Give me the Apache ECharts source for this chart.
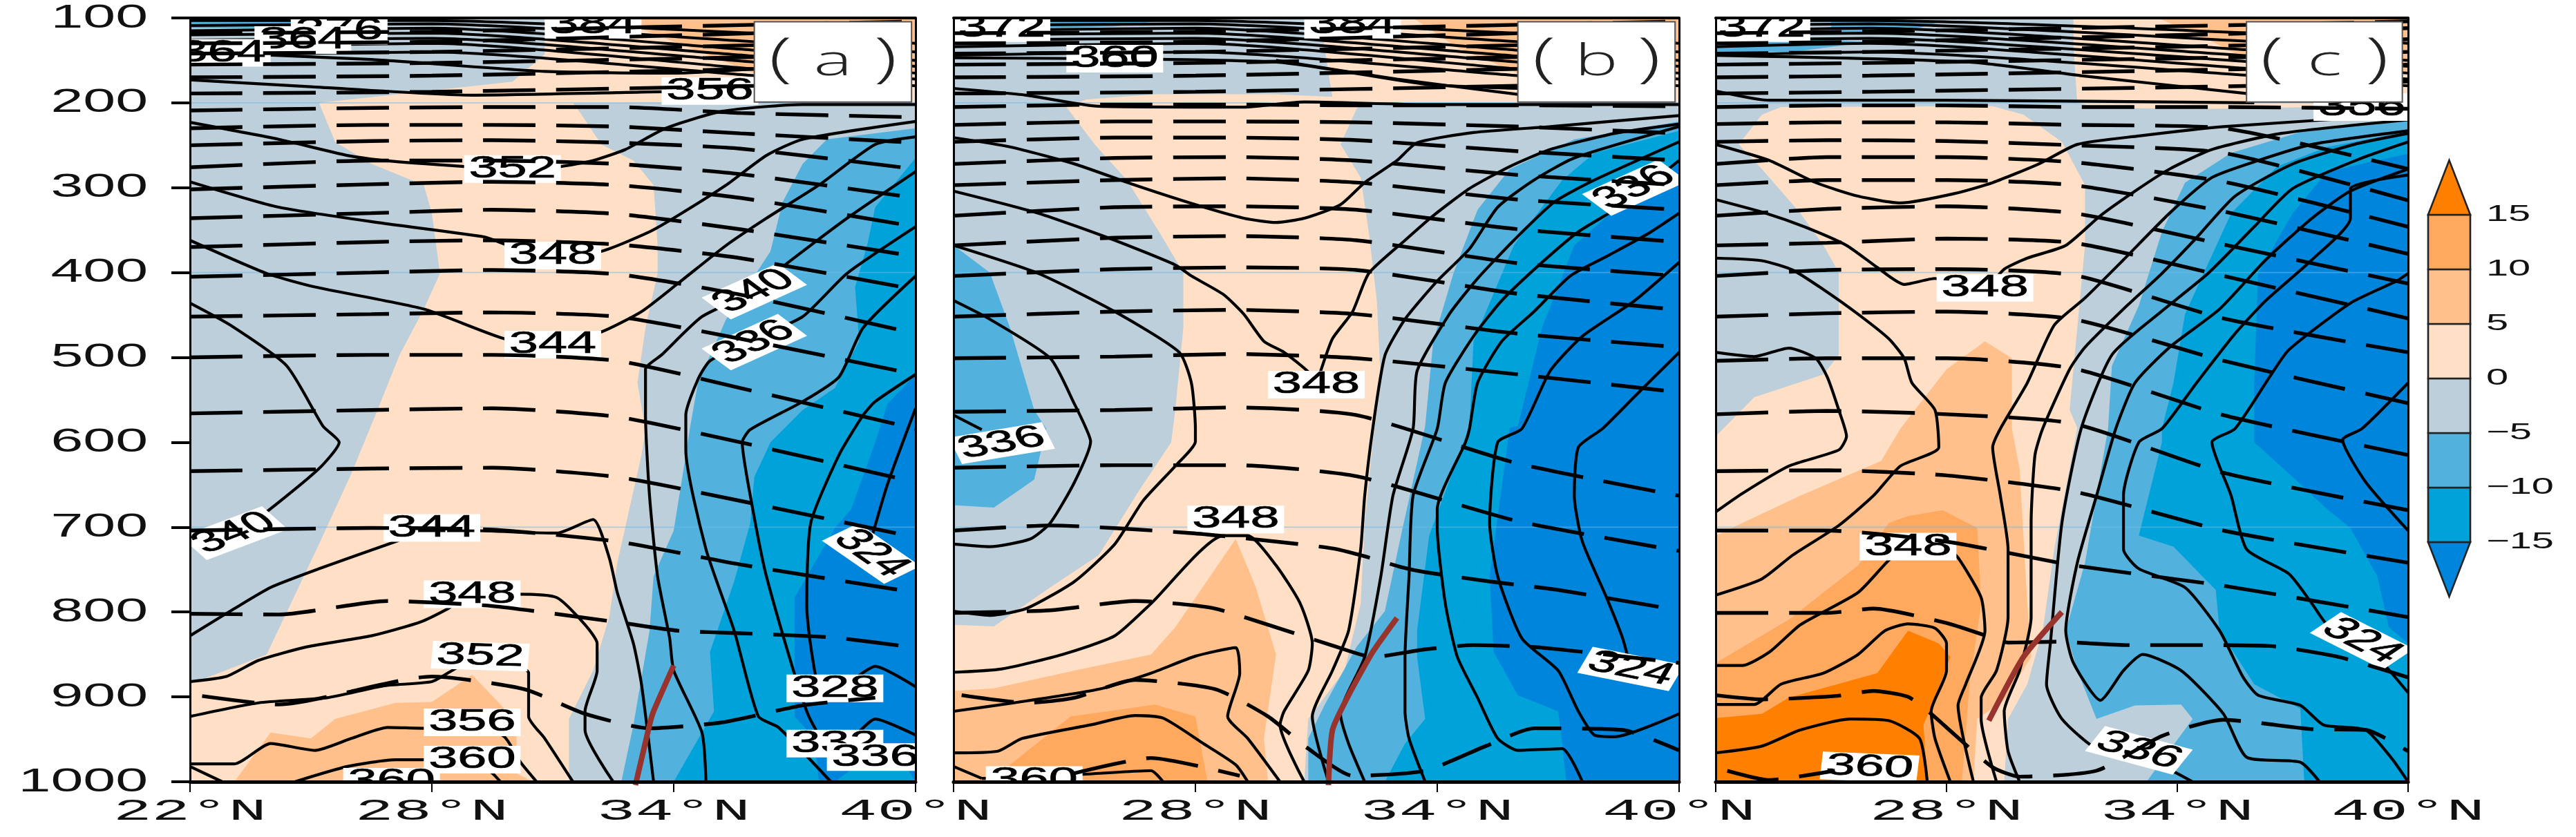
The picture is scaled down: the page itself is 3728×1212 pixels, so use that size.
<!DOCTYPE html>
<html><head><meta charset="utf-8">
<style>html,body{margin:0;padding:0;background:#fff}#c{width:3728px;height:1212px}</style>
<script src="https://cdn.jsdelivr.net/npm/echarts@6/dist/echarts.min.js"></script>
</head><body><div id="c"></div>
<script>
const pressureTicks=[100,200,300,400,500,600,700,800,900,1000];
const latTicks=[22,28,34,40];
const latLabelsA=[[22,'22°N'],[28,'28°N'],[34,'34°N'],[40,'40°N']];
const latLabelsBC=[[28,'28°N'],[34,'34°N'],[40,'40°N']];
const faintLevels=[200,400,700];
const shadeLevels=[-20,-15,-10,-5,0,5,10,15,20];
const shadeColors=['#0085DC','#00A2DA','#52B2DD','#BCCFDB','#FFDFC6','#FFC08C','#FFA95F','#FF8000'];
const panelLetters=['a','b','c'];
const insetA=[36,104.5,39.9,199], insetB=[36,104.5,39.9,199], insetC=[35.8,104.5,39.85,199];

// ---- filled regions (lat, hPa)
const aPeach=[[25.2,200],[30,175],[30.8,143],[30.8,100],[40,100],[40,199],[31.5,200],[31.7,213],[32.2,249],[33,268],[33.5,297],[33.6,368],[33.6,401],[33.3,465],[33.1,530],[33.3,585],[33.2,615],[32.6,742],[32.4,806],[32,869],[31.4,926],[31.4,1000],[22,1000],[22,885],[23.9,850],[25.2,720],[26,637],[26.6,568],[27.2,497],[27.8,443],[28.2,401],[28,330],[27.8,297],[26.5,272],[25.6,246]];
const aOrange=[[23.1,1000],[24,942],[25,949],[25.6,926],[27.1,907],[28,906],[29,874],[29.8,914],[30.1,945],[30.1,990],[30.5,1000]];
const aTopOrange=[[32.5,100],[40,100],[40,165],[36,165]];
const aTopBlue=[[22,103],[24.6,103],[24.8,112],[22,112]];
const aBlue5=[[40,230],[37.8,243],[37.2,272],[36.7,317],[36.4,375],[35.3,455],[34.6,530],[34.4,584],[34.3,615],[34,704],[33.5,758],[33.4,822],[33,933],[32.7,1000],[40,1000]];
const aBlue10=[[40,265],[39,323],[38.8,368],[38.5,417],[38.6,481],[38,536],[37.2,562],[36.4,600],[36,641],[35.9,695],[35.5,764],[34.9,847],[35,917],[34,1000],[40,1000]];
const aBlue15=[[40,520],[39.3,555],[39,600],[38.4,679],[38,701],[37,783],[37,853],[37,923],[37.5,949],[37.6,1000],[38,1000],[38.7,975],[39.8,985],[40,1000]];

const bPeach=[[31.1,100],[31.3,165],[31.4,193],[30,190],[27,190],[25.3,196],[24.8,205],[25.5,249],[26.3,291],[27.1,352],[27.7,400],[27.7,465],[27.5,562],[27.4,600],[26.6,657],[25.6,733],[24.4,771],[23,817],[22,815],[22,1000],[30.7,1000],[30.8,926],[31.7,869],[32.1,790],[32.2,695],[32.4,600],[32.6,530],[32.5,433],[32.3,352],[32.1,288],[31.6,249],[32,207],[32.2,199],[40,199],[40,100]];
const bOrange=[[22,893],[23,890],[25,869],[26.9,850],[27.5,818],[29,714],[29.5,771],[30,850],[29.7,949],[29.8,1000],[22,1000]];
const bOrange10=[[23.2,1000],[23.4,980],[24.9,923],[27,909],[28,923],[28.3,1000]];
const bTopOrange=[[33.4,100],[40,100],[40,165],[36,165],[34.5,135]];
const bTopBlue=[[24.3,103],[27.2,103],[26,110],[24.3,112]];
const bLeftBlue=[[22,368],[22.9,400],[23.4,465],[24,562],[24.3,584],[24,644],[23,677],[22,674]];
const bBlue5=[[40,222],[37.4,243],[35.8,278],[35,326],[34.4,401],[33.9,481],[33.7,581],[33.1,710],[32.7,799],[32,841],[31.2,910],[30.8,949],[30.8,1000],[40,1000]];
const bBlue10=[[40,233],[37.9,259],[37.1,291],[35.9,368],[34.9,481],[34.8,581],[33.8,710],[33.5,822],[33.5,853],[33.7,926],[33.2,955],[32.7,1000],[40,1000]];
const bBlue15=[[40,268],[38.4,326],[37.4,368],[36.6,465],[36,581],[35.8,583],[35.3,758],[35.4,847],[36,898],[37,917],[37.1,955],[37.2,1000],[40,1000]];

const cPeach=[[23.7,205],[29.2,204],[30,214],[31,246],[31.6,297],[31.6,368],[31.4,465],[31.2,562],[31.4,583],[30.8,726],[30.5,822],[30.1,885],[29.6,926],[29.5,1000],[22,1000],[22,593],[23,547],[24.8,520],[25.2,497],[25.2,400],[24.8,368],[24.2,330],[23.2,278],[22.6,249],[23.2,214]];
const cPeachTop=[[31.3,100],[31.3,133],[31.4,200],[32,206],[35,207],[37.5,205],[40,203],[40,100]];
const cOrange=[[26.8,584],[28,514],[29,481],[29.7,501],[29.7,584],[29.9,631],[30.1,790],[30.2,853],[29.5,904],[28.8,926],[28.7,1000],[22,1000],[22,710],[24.2,663],[26.3,622]];
const cOrange10=[[26.5,695],[27,687],[27.9,680],[28.8,701],[28.9,790],[28.6,885],[28.4,1000],[22,1000],[22,860],[23.9,809],[25.7,745]];
const cOrange15=[[22,925],[23.2,920],[23.9,901],[26.2,872],[27,822],[27.8,837],[28.1,853],[27.7,901],[27.4,933],[27.5,1000],[22,1000]];
const cTopOrange=[[33.5,100],[40,100],[40,165],[36.5,165],[35,130]];
const cTopBlue1=[[25,103],[28,103],[27,115],[25,117]];
const cTopBlue2=[[22,123],[24.5,125],[26,128],[24,140],[22,140]];
const cBlue5=[[40,220],[37.3,233],[35.4,259],[34.2,294],[33.6,352],[33,439],[32.3,510],[32.2,584],[31.6,742],[31.1,822],[31.4,869],[31.9,926],[32.9,910],[34.1,909],[34.4,926],[33.2,1000],[40,1000]];
const cBlue10=[[40,234],[37.9,252],[36.6,275],[35.4,330],[34.2,449],[33.9,530],[33.6,584],[33.6,600],[33,710],[33.9,723],[35,774],[35.1,822],[36,885],[37.2,914],[37.3,1000],[40,1000]];
const cBlue15=[[40,260],[37.9,281],[37,330],[36.1,401],[36,530],[36,600],[37,641],[37.9,679],[38.5,701],[39.2,758],[39.5,818],[40,837]];

// ---- solid contours
const aSolid=[
[[22,173],[25,181],[29,191],[32.6,188],[35,186],[37,186]],
[[22,140],[26.5,149],[30.8,163],[34.1,165],[36,160]],
[[22,223],[24.2,243],[25.9,262],[26.8,268],[28.8,275],[30,278],[31.2,275],[32,268],[32.8,255],[33.8,230],[35.2,210],[37.2,202],[40,202]],
[[22,293],[24.2,323],[26.8,342],[29.3,358],[29.9,368],[31,380],[32.2,375],[33.4,352],[34.1,333],[35.3,297],[36.3,262],[37.2,243],[40,222]],
[[22,362],[23.9,401],[25.1,417],[27.8,443],[29.8,478],[31,485],[32.2,470],[33.2,446],[34.1,413],[35.3,368],[36.3,336],[37.6,297],[39,249],[40,240]],
[[22,436],[23,462],[24.4,510],[25.3,581],[25.7,600],[25.2,631],[23.9,682],[23.1,707]],
[[22,828],[23.1,796],[24,771],[25.2,749],[27.1,717],[28,701],[29.1,704],[31.1,707],[32,691],[32.4,736],[32.6,777],[33,837],[33.2,885],[33.5,1000]],
[[40,281],[38.3,336],[36.6,397],[36,422],[34.7,452],[33.7,497],[33.3,514],[33.3,568],[33.4,663],[33.6,758],[33.9,831],[34,869],[34.7,942],[34.8,1000]],
[[40,346],[38.3,401],[37.2,452],[36,478],[34.9,504],[34.6,526],[34.3,568],[34.3,609],[34.8,726],[35.5,822],[36.1,923],[36.6,936],[37.9,1000]],
[[40,404],[38.7,465],[38.1,523],[37.2,552],[35.9,585],[35.7,600],[35.9,663],[36.3,758],[37.3,917],[37.9,961],[38.4,950],[39,926],[40,945]],
[[40,520],[39,552],[38.7,568],[38.1,615],[37.4,695],[37.3,790],[37.7,901],[38.3,885],[39,864],[40,888]],
[[40,560],[39.3,650],[38.8,731]],
[[22,882],[22.9,876],[23.7,857],[24.9,841],[26.5,828],[27.7,812],[28.4,796],[29,779],[30.1,779],[31.1,783],[31.8,815],[32.1,837],[32.1,869],[31.8,917],[31.8,939],[32.5,1000]],
[[22,923],[23.7,907],[25.4,901],[26.8,887],[28,882],[28.5,869],[29.2,852],[30.4,872],[30.4,923],[30.8,949],[31.5,1000]],
[[22,979],[23.1,979],[24,955],[25.1,963],[26,949],[26.9,936],[27.8,937],[29,930],[29.8,947],[30.2,977],[30.6,1000]],
[[24.6,1000],[25.9,982],[27.1,974],[29,974],[29.5,990],[29.7,1000]],
[[22,982],[22.8,1000]]
];
const bSolid=[
[[22,183],[23.8,191],[25.6,204],[29.2,205],[30.7,199],[33.7,202],[40,202]],
[[22,147],[30,152],[33.7,178],[36,183]],
[[30,150],[33,172],[36,190]],
[[22,241],[23.4,252],[25,272],[26.5,297],[28,320],[29.2,336],[30,341],[30.7,336],[31.6,320],[32.2,294],[33,268],[33.5,247],[34.9,235],[36.8,228],[40,215]],
[[22,304],[24.1,330],[26,362],[27.5,391],[27.9,404],[28.7,426],[29.2,449],[29.7,481],[30.2,494],[30.8,517],[31,532],[31.1,517],[31.4,478],[31.9,446],[32.3,401],[33.2,362],[33.9,333],[34.8,301],[35.8,275],[36.8,255],[38.4,236],[40,225]],
[[22,368],[24.1,401],[26,446],[27.6,494],[27.9,530],[28,584],[28,599],[27.5,628],[26.7,669],[26,720],[25,764],[23.8,796],[22.9,804],[22,799]],
[[22,433],[22.9,455],[24.4,501],[25,555],[25.3,585],[25.4,599],[25,647],[24.4,695],[23.9,714],[22.9,723],[22,720]],
[[22,568],[22.7,585]],
[[22,871],[23.2,867],[24.7,850],[26,828],[26.9,790],[28.7,710],[29.3,710],[30,745],[30.6,790],[30.9,837],[30.8,869],[30.2,917],[30.1,933],[30.7,1000]],
[[22,917],[23.5,907],[25.6,891],[26.9,872],[28,852],[29,842],[29.1,872],[28.8,923],[29.3,949],[30.1,1000]],
[[22,966],[23.1,964],[23.7,949],[25.4,933],[26.5,922],[27.2,925],[28.2,955],[29,980],[29.3,1000]],
[[22.7,996],[24,995],[26.9,987],[27.2,1000]],
[[22,982],[22.7,996]],
[[40,228],[37.4,265],[36.4,291],[35.5,323],[34.8,372],[34,410],[33.2,455],[32.7,498],[32.4,584],[32.2,663],[32.1,726],[31.8,822],[31.4,869],[30.9,923],[31.3,1000]],
[[40,246],[37.9,291],[36.9,317],[35.9,362],[35,407],[34.3,449],[33.5,516],[33.4,584],[32.9,663],[32.6,758],[32.2,853],[31.6,920],[31.8,955],[32.2,1000]],
[[40,268],[38.6,320],[37.5,352],[36.6,388],[35.6,433],[34.9,475],[34.2,530],[34,584],[33.4,663],[33.3,758],[33.2,853],[33.2,917],[33.3,949],[33.7,1000]],
[[40,330],[39.2,355],[38.2,381],[37.3,404],[36.4,446],[35.6,481],[35,530],[34.8,584],[34.7,600],[34,679],[34,701],[34.2,790],[34.5,853],[35,901],[35.5,949],[36,963],[37.1,961],[37.6,1000]],
[[40,388],[38.9,433],[37.6,475],[36.8,516],[36.1,584],[35.5,600],[35.3,695],[35.5,758],[36.1,831],[37,869],[37.5,917],[37.9,945],[38.4,947],[40,920]],
[[40,494],[38.9,546],[38.1,584],[37.5,606],[37.4,663],[37.6,717],[38.2,783],[38.6,831],[38.8,867]]
];
const cSolid=[
[[22,186],[23.4,197],[27.9,197],[36,200]],
[[22,144],[28.6,152],[31.5,168],[35.8,189]],
[[22,249],[23.4,268],[24.6,294],[25.7,310],[26.8,318],[28.2,307],[29.2,294],[30.4,272],[31.4,249],[33,239],[35.2,228],[40,214]],
[[22,314],[23.3,330],[24.3,346],[25.4,368],[26.2,394],[26.9,414],[27.7,407],[29,418],[29.5,396],[30.1,383],[31.1,368],[32,333],[33,301],[33.8,278],[34.9,255],[36.7,236],[40,220]],
[[22,383],[23.2,386],[24,397],[24.8,420],[25.7,449],[26.5,478],[26.9,501],[27.1,530],[27.7,562],[27.8,606],[26.8,628],[26.1,663],[25.2,698],[24,733],[23.2,761],[22,780]],
[[22,494],[23,499],[23.9,489],[24.6,501],[24.9,523],[25.2,562],[25.4,593],[25.2,609],[23.9,628],[22.7,660],[22,682]],
[[22,863],[22.7,863],[23.4,847],[24.2,815],[25.7,777],[26.5,739],[27,723],[28,725],[28.3,736],[28.9,783],[29,822],[28.5,885],[28.3,910],[28.7,1000]],
[[22,909],[23,909],[23.7,885],[24.8,872],[25.7,850],[26.4,822],[27,814],[27.7,819],[28,837],[28,869],[27.6,917],[27.7,949],[28.1,1000]],
[[22,966],[23.2,958],[24.2,939],[25.5,926],[26.5,928],[27.3,949],[27.5,1000]],
[[40,233],[37.5,249],[36.1,268],[34.9,288],[33.8,330],[32.6,385],[31.6,430],[30.8,462],[30.1,530],[29.4,584],[29.2,606],[29.4,663],[29.6,726],[29.6,806],[29.3,869],[28.9,901],[28.9,926],[29.3,1000]],
[[40,236],[38.6,249],[37,272],[35.5,310],[34.5,359],[33.6,401],[32.6,443],[31.6,488],[31.2,514],[30.5,584],[30.3,615],[30.2,695],[30.2,806],[29.9,869],[29.5,917],[29.6,964],[29.9,1000]],
[[40,246],[38.8,265],[37,301],[36,346],[34.8,401],[33.5,449],[32.3,497],[31.5,584],[31,695],[30.7,837],[30.6,885],[31,926],[31.9,961],[33,968],[34.4,1000]],
[[40,278],[38.5,304],[37.5,336],[36.3,385],[35.1,443],[33.8,488],[32.9,530],[32.4,584],[31.9,663],[31.4,742],[31.1,822],[31.3,860],[32,904],[32.6,869],[33.1,850],[34.1,869],[35.2,920],[35.8,971],[37.2,977],[37.7,1000]],
[[40,285],[38.5,301],[38.5,336],[37.5,385],[36.3,433],[35.5,472],[34.5,530],[33.6,584],[33,600],[32.6,663],[32.6,726],[33,749],[34.2,771],[35.1,822],[35.7,876],[36.1,898],[37.2,910],[37.8,933],[38.9,939],[39.6,974],[40,1000]],
[[40,401],[39.7,410],[38.5,436],[36.9,491],[36.4,523],[35.5,584],[34.9,600],[35.4,663],[35.8,726],[36.9,755],[37.5,790],[37.9,815],[38.8,834],[40,895]],
[[40,530],[38.8,584],[38.3,597],[38.9,647],[40,704]]
];

// ---- dashed contours
const aDashLats=[22,26.5,29.5,32.6,35.65,40];
const aDashRows=[[209,206,205,205,212,217],[230,226,226,228,236,247],[250,245,244,247,254,278],[276,268,268,272,284,312],[302,296,293,297,312,346],[336,330,326,331,349,381],[370,364,362,367,383,420],[405,400,397,402,426,472],[452,449,447,452,478,520],[500,497,497,504,536,584],[566,562,560,570,600,647],[634,631,630,641,669,712],[704,701,703,717,744,777]];
const aDashExtra=[
[[22,802],[24.2,803],[26.9,787],[29.5,793],[32.6,812],[34.1,822],[35.65,825],[37.95,830],[40,842]],
[[22.3,899],[24.2,909],[28,876],[30.3,891],[31.8,920],[33.4,937],[35.2,930],[37.2,910],[39,901]]
];
const bDashLats=[22,26,29,32,36,40];
const bDashRows=[[205,202,202,203,203,204],[226,222,222,223,228,236],[246,241,241,244,257,268],[272,265,264,268,285,297],[297,291,289,294,314,326],[333,323,322,326,349,364],[368,359,357,362,389,404],[404,396,394,397,425,444],[452,446,444,449,472,488],[501,499,496,501,520,541],[564,562,559,568,625,663],[630,627,627,640,693,728]];
const bDashExtra=[
[[22,704],[24.4,698],[27.9,707],[30,717],[31.4,725],[32.1,733],[33.1,747],[33.7,753],[35.3,764],[37,774],[40,798]],
[[22,801],[24.4,798],[26.5,787],[28.4,795],[29.8,815],[31.5,841],[32.4,853],[33.7,844],[34.9,839],[36.6,842],[40,860]],
[[22.2,898],[23.8,907],[25,901],[26.5,880],[28.5,891],[29.8,923],[30.8,961],[31.9,993],[33.7,987],[35.2,958],[36.4,937],[38.6,939],[40,963]],
[[25,990],[26.9,972],[29.1,993]]
];
const cDashLats=[22,24.9,28,31.3,35.2,40];
const cDashRows=[[205,203,203,205,205,207],[225,223,223,226,230,278],[246,244,245,250,259,315],[272,264,264,270,293,346],[297,291,291,297,328,378],[333,325,322,330,367,413],[368,365,360,365,404,454],[404,397,396,403,454,494],[452,448,446,455,504,554],[504,501,501,513,568,615],[567,563,567,578,636,680],[634,633,639,658,704,742],[704,704,717,745,769,806]];
const cDashExtra=[
[[22,801],[24.9,801],[26.1,796],[28,813],[29.1,829],[29.6,836],[30.8,835],[32.7,839],[34.5,839],[36.4,840],[38.2,853],[40,877]],
[[22,898],[23.2,903],[25.1,899],[26.1,893],[27,900],[27.6,920],[28,936],[29.2,983],[29.9,994],[31.9,987],[33.6,946],[35.2,927],[37.5,938],[38.9,939],[40,964]],
[[22.3,987],[23.4,998],[24,995],[25.1,987]]
];
// ---- stratospheric bundle
const topSolidRows=[[103,103,118,130],[109,107,128,140],[115,112,138,150],[120,118,145,157],[126,124,152,165],[134,130,160,172],[144,140,168,180]];
const topDashRows=[[118,116,108,104],[130,128,118,112],[142,140,132,125],[155,153,146,140],[170,168,160,155],[189,187,180,175]];
const abTopLats=[22,28,36,40];
const cTopLats=[22,26,36,40];

// ---- contour labels [lat, hPa, text, rotation°]
const aLabels=[[25.7,115,'376',0],[24.8,126,'364',0],[22.8,141,'364',0],[32,108,'384',0],[34.9,186,'356',0],[30,278,'352',0],[31,380,'348',0],[31,485,'344',0],[36,422,'340',38],[36,482,'336',38],[23.1,707,'340',33],[28,701,'344',0],[29,779,'348',0],[29.2,852,'352',-3],[29,930,'356',0],[29,974,'360',0],[27,1000,'360',0],[38,890,'328',0],[38,955,'332',0],[39,971,'336',0],[38.9,731,'324',-50]];
const bLabels=[[23.2,112,'372',0],[31.9,108,'384',0],[26,148,'360',0],[31,532,'348',0],[38.9,300,'336',38],[23.2,601,'336',16],[29,691,'348',0],[38.8,867,'324',-19],[24,998,'360',0]];
const cLabels=[[23.2,112,'372',0],[38.8,205,'356',0],[29,418,'348',0],[27,723,'348',0],[33,963,'336',-25],[38.8,834,'324',-41],[26,983,'360',-4]];

// ---- front lines
const aFront=[[33.05,1004],[33.4,933],[33.5,917],[34,863]];
const bFront=[[31.3,1004],[31.4,939],[31.8,898],[32.4,847],[33,807]];
const cFront=[[29.1,928],[30,853],[31,800]];

const STRETCH=1.72;
const SANS='"Liberation Sans",Arial,sans-serif';
const layout=[[275,1050],[1380,1050],[2483,1002]];
const TOP=26,BOTTOM=1132;

function rows(lats,rs){return rs.map(r=>r.map((p,i)=>[lats[i],p]));}
const fills=[
 [[3,[[22,100],[40,100],[40,1000],[22,1000]]],[4,aPeach],[5,aOrange],[5,aTopOrange],[2,aTopBlue],[2,aBlue5],[1,aBlue10],[0,aBlue15]],
 [[3,[[22,100],[40,100],[40,1000],[22,1000]]],[4,bPeach],[5,bOrange],[6,bOrange10],[5,bTopOrange],[2,bTopBlue],[2,bLeftBlue],[2,bBlue5],[1,bBlue10],[0,bBlue15]],
 [[3,[[22,100],[40,100],[40,1000],[22,1000]]],[4,cPeach],[4,cPeachTop],[5,cOrange],[6,cOrange10],[7,cOrange15],[5,cTopOrange],[2,cTopBlue1],[2,cTopBlue2],[2,cBlue5],[1,cBlue10],[0,cBlue15]]
];
const solids=[aSolid,bSolid,cSolid];
const dashes=[rows(aDashLats,aDashRows).concat(aDashExtra),rows(bDashLats,bDashRows).concat(bDashExtra),rows(cDashLats,cDashRows).concat(cDashExtra)];
const topLats=[abTopLats,abTopLats,cTopLats];
const labels=[aLabels,bLabels,cLabels];
const fronts=[aFront,bFront,cFront];
const insets=[insetA,insetB,insetC];
const latLabels=[latLabelsA,latLabelsBC,latLabelsBC];

const grid=[],xAxis=[],yAxis=[],series=[];
layout.forEach(([l,w])=>{grid.push({left:l,top:TOP,width:w,height:BOTTOM-TOP});});
grid.push({left:3514,top:232,width:61,height:632});
const noLab={show:false};
layout.forEach((g,i)=>{
 xAxis.push({type:'value',gridIndex:i,min:22,max:40,interval:6,z:10,position:'bottom',splitLine:{show:false},axisLabel:noLab,
  axisLine:{lineStyle:{color:'#000',width:5},onZero:false},axisTick:{show:true,length:15,lineStyle:{color:'#000',width:2}}});
 yAxis.push({type:'value',gridIndex:i,min:100,max:1000,interval:100,inverse:true,z:10,position:'left',splitLine:{show:false},axisLabel:noLab,
  axisLine:{lineStyle:{color:'#000',width:3},onZero:false},axisTick:{show:i===0,length:27,lineStyle:{color:'#000',width:4}}});
});
xAxis.push({type:'value',gridIndex:3,min:0,max:1,show:false});
yAxis.push({type:'value',gridIndex:3,min:-20,max:20,interval:5,show:false});
layout.forEach((g,i)=>{
 xAxis.push({type:'value',gridIndex:i,min:22,max:40,position:'top',z:10,splitLine:noLab,axisLabel:noLab,axisTick:noLab,axisLine:{lineStyle:{color:'#000',width:4},onZero:false}});
 yAxis.push({type:'value',gridIndex:i,min:100,max:1000,inverse:true,position:'right',z:10,splitLine:noLab,axisLabel:noLab,axisTick:noLab,axisLine:{lineStyle:{color:'#000',width:3},onZero:false}});
});

function stretched(x,y,text,font,opts){
 opts=opts||{};
 return {type:'group',x,y,scaleX:opts.sx||STRETCH,children:[{type:'text',rotation:(opts.rot||0)*Math.PI/180,
  style:Object.assign({text,font,fill:opts.fill||'#000',align:opts.align||'center',verticalAlign:'middle'},opts.style||{})}]};
}
layout.forEach((g,i)=>{
 const base={type:'custom',xAxisIndex:i,yAxisIndex:i,coordinateSystem:'cartesian2d',silent:true,encode:{x:0,y:1}};
 const fl=fills[i];
 series.push(Object.assign({},base,{name:'shade'+i,z:1,clip:true,data:fl.map(f=>f[1][0]),
  renderItem:(p,api)=>{const f=fl[p.dataIndex];return {type:'polygon',shape:{points:f[1].map(q=>api.coord(q))},style:{fill:shadeColors[f[0]]}};}}));
 const line=(d,st,z,name)=>series.push({type:'line',name,xAxisIndex:i,yAxisIndex:i,data:d,z,showSymbol:false,symbol:'none',silent:true,smooth:st.smooth,clip:st.clip!==false,lineStyle:st.ls,animation:false});
 faintLevels.forEach(v=>line([[22,v],[40,v]],{ls:{color:'rgba(110,185,230,.55)',width:1.6}},2,'faint'));
 const sol={smooth:0.2,ls:{color:'#000',width:4.2}};
 solids[i].forEach(d=>line(d,sol,3,'solid'));
 topSolidRows.forEach(r=>line(r.map((p,k)=>[topLats[i][k],p]),{smooth:0.2,ls:{color:'#000',width:4}},3,'solid'));
 const lb=labels[i];
 series.push(Object.assign({},base,{name:'labels'+i,z:4,clip:true,data:lb.map(d=>[d[0],d[1]]),
  renderItem:(p,api)=>{const d=lb[p.dataIndex],c=api.coord([d[0],d[1]]);
   return stretched(c[0],c[1],d[2],'44px '+SANS,{rot:d[3],style:{backgroundColor:'#fff',padding:[0,4,0,4],lineHeight:40,stroke:'#000',lineWidth:0.7}});}}));
 const dsh={smooth:0.2,ls:{color:'#000',width:5.4,type:[76,30]}};
 dashes[i].forEach(d=>line(d,dsh,5,'dashed'));
 topDashRows.forEach(r=>line(r.map((p,k)=>[topLats[i][k],p]),dsh,5,'dashed'));
 line(fronts[i],{smooth:0.2,clip:false,ls:{color:'#98332D',width:8}},6,'front');
 const b=insets[i];
 series.push(Object.assign({},base,{name:'tag'+i,z:7,data:[[b[0],b[1]]],
  renderItem:(p,api)=>{const a=api.coord([b[0],b[1]]),e=api.coord([b[2],b[3]]);
   const cx=(a[0]+e[0])/2,cy=(a[1]+e[1])/2;
   return {type:'group',children:[
    {type:'rect',shape:{x:a[0],y:a[1],width:e[0]-a[0],height:e[1]-a[1]},style:{fill:'#fff',stroke:'#555',lineWidth:2}},
    stretched(cx-76,cy-2,'(','300 78px "Open Sans",'+SANS,{sx:1.6,fill:'#222'}),
    stretched(cx,cy+2,panelLetters[i],'300 62px "Open Sans",'+SANS,{sx:1.7,fill:'#222'}),
    stretched(cx+76,cy-2,')','300 78px "Open Sans",'+SANS,{sx:1.6,fill:'#222'})]};}}));
 const xl=latLabels[i];
 series.push(Object.assign({},base,{name:'xlabels'+i,z:12,data:xl.map(d=>[d[0],1000]),
  renderItem:(p,api)=>{const d=xl[p.dataIndex],c=api.coord([d[0],1000]);
   return stretched(c[0],c[1]+43,d[1],'44px "Liberation Mono",monospace',{sx:2.1,fill:'#111'});}}));
 if(i===0) series.push(Object.assign({},base,{name:'ylabels',z:12,data:pressureTicks.map(v=>[22,v]),
  renderItem:(p,api)=>{const v=pressureTicks[p.dataIndex],c=api.coord([22,v]);
   return stretched(c[0]-61,c[1],String(v),'49px '+SANS,{align:'right',sx:1.72,fill:'#111'});}}));
});
const cbBase={type:'custom',xAxisIndex:3,yAxisIndex:3,coordinateSystem:'cartesian2d',silent:true,encode:{x:0,y:1}};
const cbBins=shadeColors.map((c,i)=>[shadeLevels[i],shadeLevels[i+1],c]);
series.push(Object.assign({},cbBase,{name:'colorbar',z:3,data:cbBins.map(b=>[0,b[0]]),
 renderItem:(p,api)=>{const [lo,hi,col]=cbBins[p.dataIndex];
  let pts=[[0,lo],[1,lo],[1,hi],[0,hi]];
  if(p.dataIndex===0) pts=[[0,hi],[1,hi],[.5,lo]];
  if(p.dataIndex===cbBins.length-1) pts=[[0,lo],[1,lo],[.5,hi]];
  return {type:'polygon',shape:{points:pts.map(q=>api.coord(q))},style:{fill:col,stroke:'#222',lineWidth:2.6}};}}));
const cbTicks=[-15,-10,-5,0,5,10,15];
series.push(Object.assign({},cbBase,{name:'cbticks',z:5,data:cbTicks.map(v=>[1,v]),
 renderItem:(p,api)=>{const v=cbTicks[p.dataIndex],c=api.coord([1,v]);
  return stretched(c[0]+23,c[1],(v<0?'\u2212':'')+Math.abs(v),'33px '+SANS,{align:'left',sx:1.75,fill:'#111'});}}));

const chart=echarts.init(document.getElementById('c'),null,{renderer:'canvas'});
chart.setOption({animation:false,backgroundColor:'#fff',grid,xAxis,yAxis,series});
</script></body></html>
